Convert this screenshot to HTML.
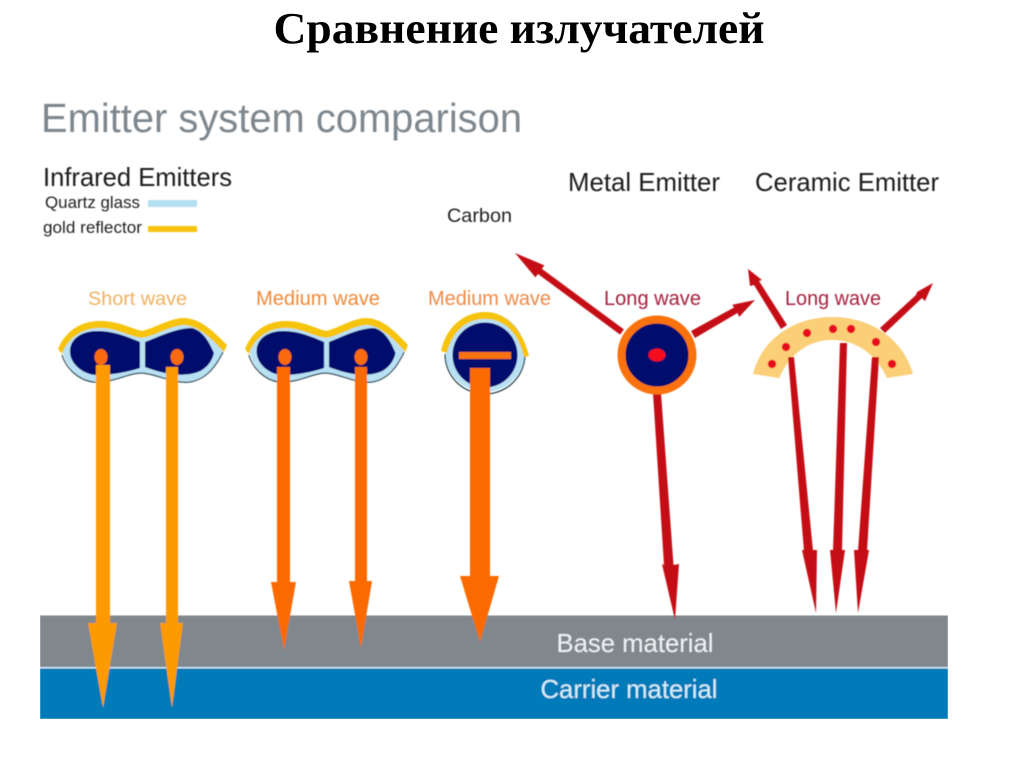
<!DOCTYPE html>
<html lang="ru">
<head>
<meta charset="utf-8">
<title>Сравнение излучателей</title>
<style>
html,body{margin:0;padding:0;background:#fff;width:1024px;height:767px;overflow:hidden}
svg{display:block}
text{font-family:"Liberation Sans",sans-serif}
</style>
</head>
<body>
<svg width="1024" height="767" viewBox="0 0 1024 767" xmlns="http://www.w3.org/2000/svg">
<defs><filter id="soft" x="0" y="0" width="100%" height="100%"><feGaussianBlur stdDeviation="0.5"/></filter></defs>
<rect width="1024" height="767" fill="#fff"/>
<text x="519" y="43" text-anchor="middle" style="font-family:'Liberation Serif',serif" font-weight="bold" font-size="44" fill="#000" textLength="491" lengthAdjust="spacingAndGlyphs">Сравнение излучателей</text>

<g filter="url(#soft)">
<text x="41" y="132" font-size="40.5" fill="#7e878e" textLength="481" lengthAdjust="spacingAndGlyphs">Emitter system comparison</text>
<text x="43" y="186" font-size="25.6" fill="#1a1a1a" textLength="189" lengthAdjust="spacingAndGlyphs">Infrared Emitters</text>
<text x="45" y="208" font-size="17" fill="#222" textLength="95" lengthAdjust="spacingAndGlyphs">Quartz glass</text>
<text x="43" y="233" font-size="17" fill="#222" textLength="99" lengthAdjust="spacingAndGlyphs">gold reflector</text>
<rect x="148" y="200" width="49" height="7" fill="#b5e0f3"/>
<rect x="148" y="226" width="49" height="6" fill="#f6c30f"/>
<text x="447" y="222" font-size="19.8" fill="#222" textLength="65" lengthAdjust="spacingAndGlyphs">Carbon</text>
<text x="568" y="191" font-size="25.8" fill="#1a1a1a" textLength="152" lengthAdjust="spacingAndGlyphs">Metal Emitter</text>
<text x="755" y="191" font-size="25.7" fill="#1a1a1a" textLength="184" lengthAdjust="spacingAndGlyphs">Ceramic Emitter</text>

<text x="88" y="305" font-size="19.8" fill="#f0b060" textLength="99" lengthAdjust="spacingAndGlyphs">Short wave</text>
<text x="256" y="305" font-size="20" fill="#ee8a38" textLength="124" lengthAdjust="spacingAndGlyphs">Medium wave</text>
<text x="428" y="305" font-size="20" fill="#ee8a48" textLength="123" lengthAdjust="spacingAndGlyphs">Medium wave</text>
<text x="604" y="305" font-size="20" fill="#a5203c" textLength="97" lengthAdjust="spacingAndGlyphs">Long wave</text>
<text x="785" y="305" font-size="20" fill="#a5203c" textLength="96" lengthAdjust="spacingAndGlyphs">Long wave</text>

<!-- layers -->
<rect x="40" y="615.5" width="908" height="51.5" fill="#80878d"/>
<rect x="40" y="667" width="908" height="1.5" fill="#cfe6f7"/>
<rect x="40" y="668.5" width="908" height="50.5" fill="#007ab8"/>
<text x="635" y="652" text-anchor="middle" font-size="25.7" fill="#eef0f2" textLength="157" lengthAdjust="spacingAndGlyphs">Base material</text>
<text x="629" y="698" text-anchor="middle" font-size="25.7" fill="#d4eefb" textLength="177" lengthAdjust="spacingAndGlyphs">Carrier material</text>

<!-- twin tube emitters -->
<g id="twin">
<path d="M62 350 C70 335 82 325 100 325 C118 325 130 333 142 334 C155 332 170 322 184 321 C200 322 212 335 223 350 C218 364 210 376 190 382 C172 384 155 373 141 373 C128 373 114 383 93 382 C78 380 66 368 62 350Z" fill="#b9e1f4"/>
<path d="M62 355 C66 368 78 380 93 382 C114 383 128 373 141 373 C155 373 172 384 190 382 C207 379 216 366 223 352" fill="none" stroke="#2b4450" stroke-width="1.2"/>
<path d="M70 350 C71 337 84 331 97 331 C114 331 128 337 140 342 L140 368 C128 372 112 375 97 375 C84 375 69 364 70 350Z" fill="#02096c"/>
<path d="M145 342 C158 337 176 328 192 328 C204 331 210 344 214 353 C212 362 206 369 198 372 C182 378 160 373 145 367Z" fill="#02096c"/>
<path d="M58 349 C64 334 78 321 100 321 C118 321 130 328 142 331 C155 328 170 318 184 318 C200 319 210 328 227 345 L224 352 C210 337 198 326 184 325 C170 326 155 336 142 338 C128 336 116 328 100 328 C82 328 68 338 62 354Z" fill="#f6c30f"/>
</g>
<use href="#twin" transform="translate(245 0) scale(.965 1) translate(-58 0)"/>

<ellipse cx="101" cy="357" rx="6.5" ry="8" fill="#f96a0c"/>
<ellipse cx="177" cy="357" rx="6.5" ry="8" fill="#f96a0c"/>
<ellipse cx="285" cy="357" rx="6.5" ry="8" fill="#f96a0c"/>
<ellipse cx="361" cy="357" rx="6.5" ry="8" fill="#f96a0c"/>

<!-- single tube -->
<circle cx="485" cy="352" r="40" fill="#b9e1f4"/>
<path d="M445 354 A40 40 0 0 0 525 354" fill="none" stroke="#1e3a40" stroke-width="1.2"/>
<circle cx="485" cy="355" r="32.5" fill="#02096c"/>
<path d="M441 351 C446 327 464 312 485 312 C506 312 522 328 529 356 L524 357 C518 332 504 319 485 319 C466 319 452 332 447 353Z" fill="#f6c30f"/>
<rect x="459" y="352" width="52" height="7" fill="#f9720c"/>

<!-- orange arrows -->
<path d="M96 365H110V623H117L103 708L88 623H96Z" fill="#fd9a05"/>
<path d="M166 367H178V623H183L172 708L160 623H166Z" fill="#fd9a05"/>
<path d="M277 367H290V582H296L284 650L271 582H277Z" fill="#fb6a03"/>
<path d="M355 367H367V581H372L361 648L349 581H355Z" fill="#fb6a03"/>
<path d="M470 368H490V576H499L480 642L460 576H470Z" fill="#fb6a03"/>

<!-- metal emitter -->
<g fill="#c50c12">
<polygon points="515,253 544.4,265.4 541.8,268.8 623.9,329.4 620.1,334.6 538,274 535.4,277.4"/>
<polygon points="755,300 739.2,316.9 737.5,313 695,338 691,331 734,307.5 732.4,304.7"/>
<polygon points="653,393 661,393 673.5,565 679,564 675,620 662,564 664,565"/>
</g>
<circle cx="657" cy="355" r="35.5" fill="#02096c" stroke="#f9720c" stroke-width="8"/>
<ellipse cx="657" cy="355" rx="8.5" ry="6.5" fill="#f5101a"/>

<!-- ceramic emitter -->
<g fill="#c50c12">
<polygon points="748,269 762,280 759,281 787,325 781,329 754,285 750,286"/>
<polygon points="933,283 925,301 922,298 885,333 880,328 916,295 917,292"/>
<polygon points="817,550 816,613 802,550"/>
<polygon points="845,550 836,613 830,550"/>
<polygon points="869,550 858,613 854,550"/>
</g>
<path d="M753 374 C762 338 795 317 832 317 C870 317 903 338 913 374 L887 378 C876 354 856 340 832 340 C808 340 790 354 779 378Z" fill="#fbcf78"/>
<g fill="#c50c12">
<polygon points="840,343 847,343 842,551 833,551"/>
<polygon points="788,357 794,357 813,551 804,551"/>
<polygon points="872,357 879,357 867,551 858,551"/>
</g>
<g fill="#e8101a">
<circle cx="772" cy="364" r="4.2"/><circle cx="786" cy="347" r="4.2"/><circle cx="807" cy="333" r="4.2"/><circle cx="833" cy="329" r="4.2"/><circle cx="851" cy="329" r="4.2"/><circle cx="876" cy="342" r="4.2"/><circle cx="892" cy="364" r="4.2"/>
</g>
</g>
</svg>
</body>
</html>
